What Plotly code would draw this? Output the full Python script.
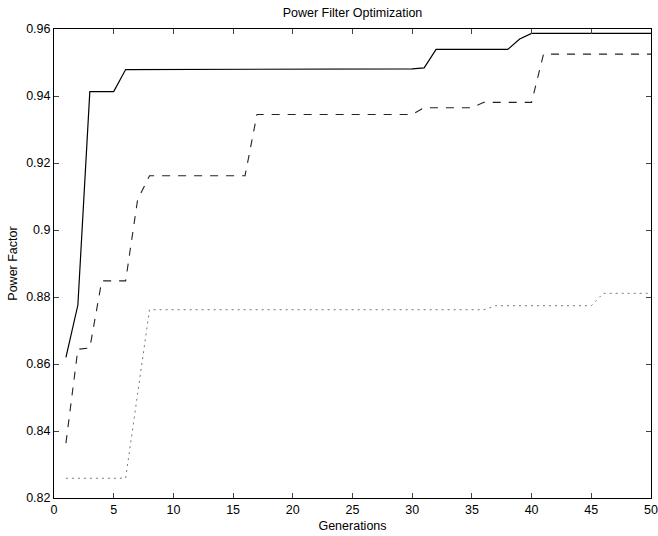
import plotly.graph_objects as go

# Generation index
generations = list(range(1, 51))

# Best power factor per generation (solid)
best_pf = [0.8620, 0.8776, 0.9413, 0.9413, 0.9413] + [0.9479] * 16 + [0.9481] * 9 + \
          [0.9484, 0.9539, 0.9539, 0.9539, 0.9539, 0.9539, 0.9539, 0.9539, 0.9570, 0.9587] + [0.9587] * 10

# Mean power factor per generation (dashed)
mean_pf = [0.8364, 0.8644, 0.8648, 0.8848, 0.8848, 0.8848, 0.9090] + [0.9162] * 9 + \
          [0.9345] * 14 + [0.9365] * 5 + [0.9381] * 5 + [0.9525] * 10

# Worst power factor per generation (dotted)
worst_pf = [0.8259] * 6 + [0.8510] + [0.8762] * 29 + [0.8774] * 9 + [0.8811] * 5

x_ticks = [0, 5, 10, 15, 20, 25, 30, 35, 40, 45, 50]
y_ticks = [0.82, 0.84, 0.86, 0.88, 0.90, 0.92, 0.94, 0.96]
y_tick_text = ["0.82", "0.84", "0.86", "0.88", "0.9", "0.92", "0.94", "0.96"]

fig = go.Figure()
fig.add_trace(go.Scatter(x=generations, y=best_pf, mode="lines",
                         line=dict(color="black", width=1.2, dash="solid"),
                         showlegend=False))
fig.add_trace(go.Scatter(x=generations, y=mean_pf, mode="lines",
                         line=dict(color="#222", width=1.1, dash="8px,8px"),
                         showlegend=False))
fig.add_trace(go.Scatter(x=generations, y=worst_pf, mode="lines",
                         line=dict(color="#777", width=1, dash="2px,4px"),
                         showlegend=False))

font_family = "Liberation Sans, Arial, sans-serif"
fs = 12.5
fig.update_layout(
    width=658, height=536,
    margin=dict(l=54, r=7, t=29, b=38),
    paper_bgcolor="white", plot_bgcolor="white",
    font=dict(family=font_family, size=fs, color="black"),
    title=dict(text="Power Filter Optimization", x=0.5, xref="paper",
               y=1 - 13 / 536, yanchor="middle", font=dict(size=fs)),
)
fig.update_xaxes(
    range=[0, 50], tickvals=x_ticks, ticks="inside", ticklen=5,
    showline=True, linecolor="black", linewidth=1, mirror="ticks",
    showgrid=False, zeroline=False, tickfont=dict(size=fs),
    ticklabeloverflow="allow", automargin=False,
    title=dict(text="Generations", standoff=5, font=dict(size=fs)),
)
fig.update_yaxes(
    range=[0.82, 0.96], tickvals=y_ticks, ticktext=y_tick_text,
    ticks="inside", ticklen=5,
    showline=True, linecolor="black", linewidth=1, mirror="ticks",
    showgrid=False, zeroline=False, tickfont=dict(size=fs),
    ticklabeloverflow="allow", automargin=False,
    title=dict(text="Power Factor", standoff=5, font=dict(size=fs)),
)

fig.write_html("out.html")
